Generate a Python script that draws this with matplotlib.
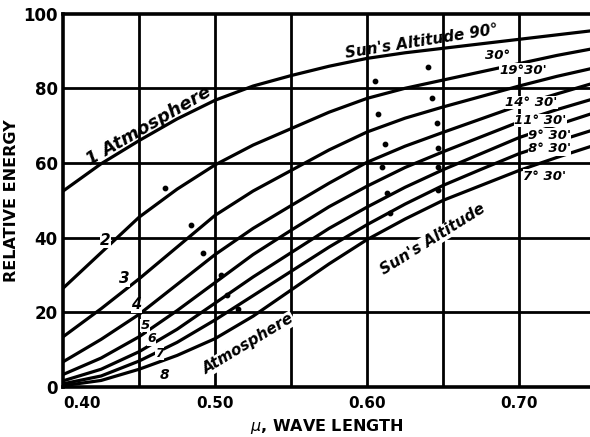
import matplotlib

matplotlib.use("Agg")
import matplotlib.pyplot as plt

# wave length (micron), read every 0.025
wave = [0.400, 0.425, 0.450, 0.475, 0.500, 0.525, 0.550, 0.575,
        0.600, 0.625, 0.650, 0.675, 0.700, 0.725, 0.750]

# relative energy for 1..8 atmospheres (sun's altitude 90, 30, 19.5, 14.5, 11.5, 9.5, 8.5, 7.5 deg)
atm1 = [52.5, 59.8, 66.0, 71.8, 76.8, 80.6, 83.4, 85.9, 88.0, 89.5, 90.7, 91.9, 93.1, 94.3, 95.5]
atm2 = [26.5, 36.0, 45.5, 53.0, 59.5, 64.8, 69.2, 73.6, 77.3, 80.0, 82.2, 84.4, 86.6, 88.8, 90.7]
atm3 = [13.5, 21.0, 29.0, 37.5, 46.0, 52.5, 58.0, 63.5, 68.3, 72.0, 75.0, 77.8, 80.6, 83.2, 85.5]
atm4 = [6.8, 12.8, 19.5, 27.5, 35.5, 42.5, 48.6, 54.6, 60.2, 64.5, 68.2, 71.8, 75.4, 78.5, 81.5]
atm5 = [3.4, 7.8, 13.5, 20.5, 28.0, 35.5, 42.0, 48.3, 53.8, 58.8, 63.0, 67.0, 71.0, 74.3, 77.3]
atm6 = [1.7, 4.8, 9.5, 15.5, 22.5, 29.5, 36.0, 42.5, 48.2, 53.5, 58.2, 62.5, 66.8, 70.2, 73.5]
atm7 = [0.9, 3.0, 7.0, 12.0, 18.0, 24.5, 31.0, 37.5, 43.5, 49.0, 54.0, 58.3, 62.5, 65.8, 69.0]
atm8 = [0.4, 1.8, 4.8, 8.5, 13.0, 19.0, 26.0, 33.0, 39.5, 45.0, 50.0, 54.0, 58.0, 61.5, 64.8]
curves = [atm1, atm2, atm3, atm4, atm5, atm6, atm7, atm8]

# stray marks between the curves
dot_x = [0.467, 0.484, 0.492, 0.504, 0.508, 0.515,
         0.605, 0.607, 0.612, 0.610, 0.613, 0.615,
         0.640, 0.643, 0.646, 0.647, 0.647, 0.647]
dot_y = [53.2, 43.3, 36.0, 30.0, 24.6, 21.0,
         82.0, 73.0, 65.0, 59.0, 52.0, 46.5,
         85.6, 77.5, 70.6, 64.0, 59.0, 52.7]

alt_labels = ["30°", "19°30'", "14° 30'", "11° 30'", "9° 30'", "8° 30'", "7° 30'"]
alt_x = [0.686, 0.703, 0.708, 0.714, 0.720, 0.720, 0.717]
alt_y = [88.8, 84.8, 76.2, 71.4, 67.4, 63.8, 56.5]

num_labels = ["2", "3", "4", "5", "6", "7", "8"]
num_x = [0.428, 0.440, 0.448, 0.454, 0.458, 0.4635, 0.467]
num_y = [39.3, 29.0, 22.0, 16.5, 12.9, 9.0, 3.2]
num_size = [11, 11, 10.5, 9.5, 9, 9, 10]

INK = "black"
BG = dict(facecolor="white", edgecolor="none", pad=0.3)

fig = plt.figure(figsize=(5.9, 4.37), dpi=100)
ax = fig.add_axes([0.107, 0.114, 0.893, 0.855])

for v in [0.45, 0.50, 0.55, 0.60, 0.65, 0.70]:
    ax.axvline(v, color=INK, linewidth=2.0, zorder=1)
for h in [20, 40, 60, 80]:
    ax.axhline(h, color=INK, linewidth=2.0, zorder=1)

for c in curves:
    ax.plot(wave, c, color=INK, linewidth=2.3, solid_joinstyle="round", zorder=2)

ax.scatter(dot_x, dot_y, s=10, color=INK, zorder=3)

txt = dict(color=INK, fontstyle="italic", fontweight="bold", ha="center", va="center", zorder=4)
ax.text(0.456, 70.0, "1 Atmosphere", rotation=30, fontsize=13, **txt)
ax.text(0.636, 92.6, "Sun's Altitude 90°", rotation=9, fontsize=11, **txt)
ax.text(0.522, 11.5, "Atmosphere", rotation=31, fontsize=11, bbox=BG, **txt)
ax.text(0.643, 39.5, "Sun's Altitude", rotation=32, fontsize=11, bbox=BG, **txt)
for s, x, y in zip(alt_labels, alt_x, alt_y):
    ax.text(x, y, s, fontsize=9.5, bbox=BG, **txt)
for s, x, y, fs in zip(num_labels, num_x, num_y, num_size):
    ax.text(x, y, s, fontsize=fs, bbox=BG, **txt)

ax.set_xlim(0.40, 0.7467)
ax.set_ylim(0, 100)
ax.set_xticks([0.40, 0.50, 0.60, 0.70])
ax.set_xticklabels(["0.40", "0.50", "0.60", "0.70"])
ax.set_yticks([0, 20, 40, 60, 80, 100])
ax.tick_params(axis="x", length=0, labelsize=11, pad=6.5, colors=INK)
ax.tick_params(axis="y", length=0, labelsize=12, pad=4, colors=INK)
for lab in ax.get_xticklabels() + ax.get_yticklabels():
    lab.set_fontweight("bold")
ax.get_xticklabels()[0].set_horizontalalignment("left")
ax.set_xlabel("$\\mu$, WAVE LENGTH", fontsize=11.5, fontweight="bold", labelpad=4)
ax.set_ylabel("RELATIVE ENERGY", fontsize=11.5, fontweight="bold", labelpad=3)

for s in ("left", "bottom", "top"):
    ax.spines[s].set_linewidth(2.6)
ax.spines["right"].set_visible(False)

fig.savefig("out.png", dpi=100)
